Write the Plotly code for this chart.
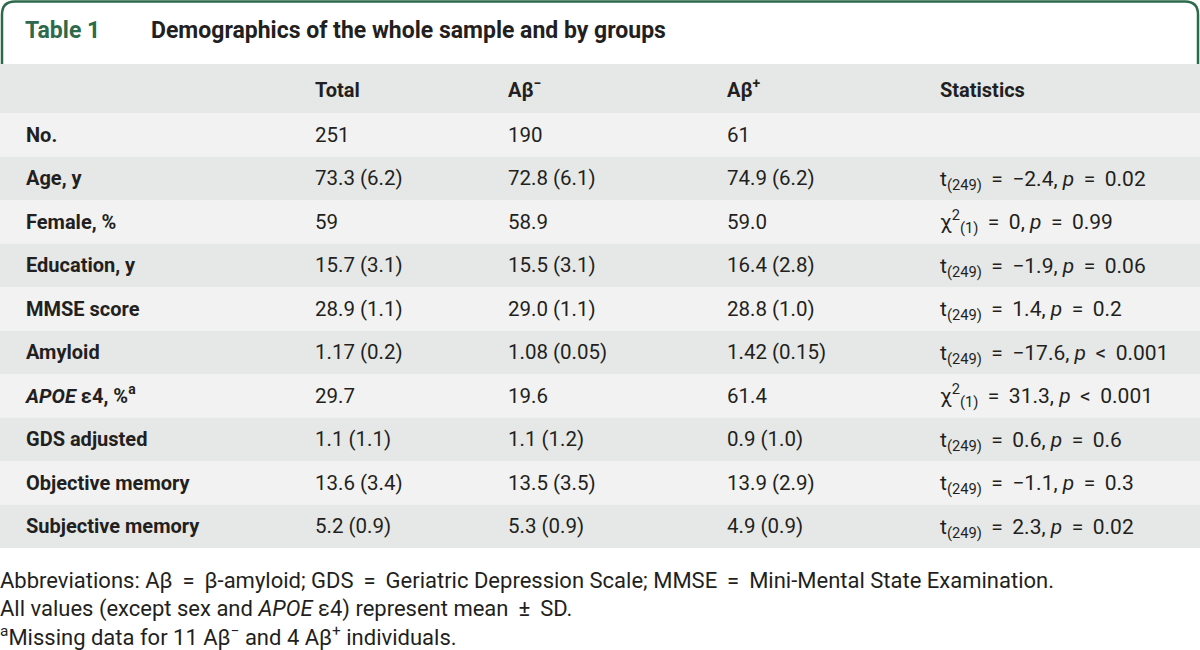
import plotly.graph_objects as go

W, H = 1200, 650

# ---- data ----
title_label = "Table 1"
title_text = "Demographics of the whole sample and by groups"

header_labels = ["", "Total", "Aβ<sup>−</sup>", "Aβ<sup>+</sup>", "Statistics"]

row_labels = ["No.", "Age, y", "Female, %", "Education, y", "MMSE score", "Amyloid",
              "<i>APOE</i> ε4, %<sup>a</sup>", "GDS adjusted", "Objective memory",
              "Subjective memory"]
total_vals = ["251", "73.3 (6.2)", "59", "15.7 (3.1)", "28.9 (1.1)", "1.17 (0.2)",
              "29.7", "1.1 (1.1)", "13.6 (3.4)", "5.2 (0.9)"]
abneg_vals = ["190", "72.8 (6.1)", "58.9", "15.5 (3.1)", "29.0 (1.1)", "1.08 (0.05)",
              "19.6", "1.1 (1.2)", "13.5 (3.5)", "5.3 (0.9)"]
abpos_vals = ["61", "74.9 (6.2)", "59.0", "16.4 (2.8)", "28.8 (1.0)", "1.42 (0.15)",
              "61.4", "0.9 (1.0)", "13.9 (2.9)", "4.9 (0.9)"]
stats_vals = ["",
              "t<sub>(249)</sub> = −2.4, <i>p</i> = 0.02",
              "χ<sup>2</sup><sub>(1)</sub> = 0, <i>p</i> = 0.99",
              "t<sub>(249)</sub> = −1.9, <i>p</i> = 0.06",
              "t<sub>(249)</sub> = 1.4, <i>p</i> = 0.2",
              "t<sub>(249)</sub> = −17.6, <i>p</i> < 0.001",
              "χ<sup>2</sup><sub>(1)</sub> = 31.3, <i>p</i> < 0.001",
              "t<sub>(249)</sub> = 0.6, <i>p</i> = 0.6",
              "t<sub>(249)</sub> = −1.1, <i>p</i> = 0.3",
              "t<sub>(249)</sub> = 2.3, <i>p</i> = 0.02"]

footnotes = [
    "Abbreviations: Aβ = β-amyloid; GDS = Geriatric Depression Scale; MMSE = Mini-Mental State Examination.",
    "All values (except sex and <i>APOE</i> ε4) represent mean ± SD.",
    "<sup>a</sup>Missing data for 11 Aβ<sup>−</sup> and 4 Aβ<sup>+</sup> individuals.",
]

# ---- style / layout constants ----
FONT = "Roboto"
TXT = "#231f20"
GREEN = "#2d6a4b"
HDR = "#e6e8e7"
LIGHT = "#f2f2f2"
DARK = "#e6e8e7"

col_x = [26, 315, 508, 727, 940]
table_top = 64
header_h = 49
row_h = 43.5
text_dy = 2.0
SP = "\u00a0\u2009"


def math_space(s):
    return (s.replace(" = ", SP + "=" + SP)
             .replace(" < ", SP + "<" + SP)
             .replace(" ± ", SP + "±" + SP))


n_rows = len(row_labels)
header_c = table_top + header_h / 2
row_c = [table_top + header_h + row_h * (i + 0.5) for i in range(n_rows)]
row_fill = [LIGHT if i % 2 == 0 else DARK for i in range(n_rows)]

fig = go.Figure()

# header band and row stripes
fig.add_trace(go.Bar(orientation="h", y=[header_c], x=[W], base=0, width=header_h,
                     marker=dict(color=HDR, line=dict(width=0)), hoverinfo="skip",
                     showlegend=False))
fig.add_trace(go.Bar(orientation="h", y=row_c, x=[W] * n_rows, base=0, width=row_h,
                     marker=dict(color=row_fill, line=dict(width=0)), hoverinfo="skip",
                     showlegend=False))

# header text
for cx, h in zip(col_x, header_labels):
    if not h:
        continue
    fig.add_trace(go.Scatter(x=[cx], y=[header_c + 3], mode="text",
                             text=[f"<b>{h}</b>"], textposition="middle right",
                             marker=dict(size=1),
                             textfont=dict(family=FONT, size=20, color=TXT),
                             hoverinfo="skip", showlegend=False))

columns = [
    ([f"<b>{r}</b>" for r in row_labels], 20),
    (total_vals, 20.5),
    (abneg_vals, 20.5),
    (abpos_vals, 20.5),
    ([math_space(s) for s in stats_vals], 21),
]
for cx, (vals, fs) in zip(col_x, columns):
    fig.add_trace(go.Scatter(x=[cx] * n_rows, y=[c + text_dy for c in row_c],
                             mode="text", text=vals, textposition="middle right",
                             marker=dict(size=1),
                             textfont=dict(family=FONT, size=fs, color=TXT),
                             hoverinfo="skip", showlegend=False))


def px_x(x):
    return x / W


def px_y(y):
    return 1 - y / H


# title box with rounded top corners
r = 13
x0, x1, yt, yb = 2.0, 1198.0, 1.5, table_top
path = (f"M {px_x(x0)},{px_y(yb)} L {px_x(x0)},{px_y(yt + r)} "
        f"Q {px_x(x0)},{px_y(yt)} {px_x(x0 + r)},{px_y(yt)} "
        f"L {px_x(x1 - r)},{px_y(yt)} "
        f"Q {px_x(x1)},{px_y(yt)} {px_x(x1)},{px_y(yt + r)} "
        f"L {px_x(x1)},{px_y(yb)}")
fig.add_shape(type="path", path=path, xref="paper", yref="paper",
              line=dict(color=GREEN, width=2.5), layer="above")

fig.add_annotation(x=px_x(23), y=px_y(30), xref="paper", yref="paper",
                   text=f"<b>{title_label}</b>", showarrow=False,
                   xanchor="left", yanchor="middle",
                   font=dict(family=FONT, size=23, color=GREEN))
fig.add_annotation(x=px_x(149), y=px_y(30), xref="paper", yref="paper",
                   text=f"<b>{title_text}</b>", showarrow=False,
                   xanchor="left", yanchor="middle",
                   font=dict(family=FONT, size=23, color=TXT))

foot_y = [580, 609, 636]
for t, yy in zip(footnotes, foot_y):
    fig.add_annotation(x=0, y=px_y(yy), xref="paper", yref="paper",
                       text=math_space(t), showarrow=False, xanchor="left",
                       yanchor="middle", xshift=-2,
                       font=dict(family=FONT, size=22, color=TXT))

fig.update_layout(
    width=W, height=H, margin=dict(l=0, r=0, t=0, b=0, pad=0),
    paper_bgcolor="white", plot_bgcolor="white",
    xaxis=dict(range=[0, W], visible=False, fixedrange=True),
    yaxis=dict(range=[H, 0], visible=False, fixedrange=True),
    barmode="overlay", showlegend=False,
)

fig.write_html("out.html", config={"displayModeBar": False},
               post_script="document.body.style.margin='0';")
